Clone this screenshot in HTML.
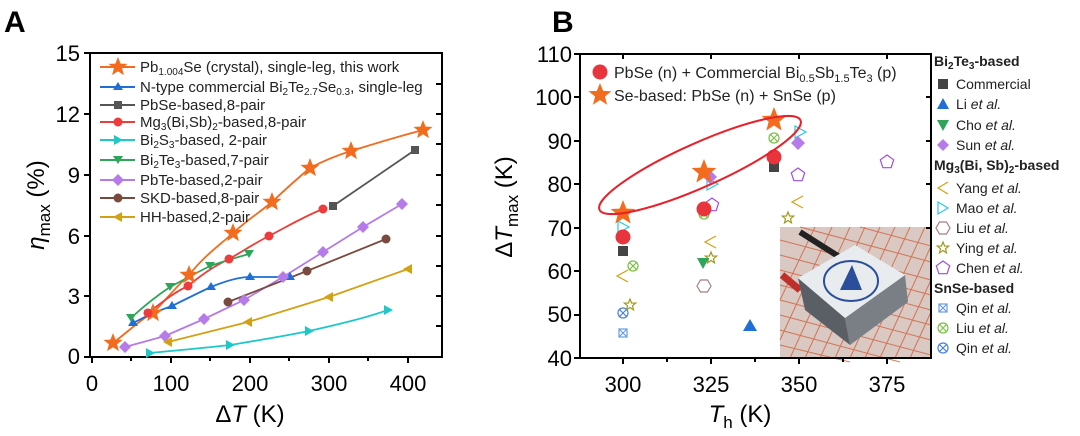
<!DOCTYPE html>
<html><head><meta charset="utf-8"><style>
body{margin:0;background:#fff;}
svg{display:block;font-family:"Liberation Sans",Arial,sans-serif;}
</style></head><body>
<svg width="1080" height="436" viewBox="0 0 1080 436" xmlns="http://www.w3.org/2000/svg">
<defs>
<path id="st" d="M0,-10 L2.6,-3.4 9.5,-3.1 4.1,1.3 5.9,8.1 0,4.2 -5.9,8.1 -4.1,1.3 -9.5,-3.1 -2.6,-3.4Z"/>
<path id="sst" d="M0,-6 L1.6,-2 5.7,-1.9 2.5,0.8 3.5,4.9 0,2.5 -3.5,4.9 -2.5,0.8 -5.7,-1.9 -1.6,-2Z"/>
<path id="pent" d="M0,-7 L6.7,-2.2 4.1,5.7 -4.1,5.7 -6.7,-2.2Z"/>
<path id="hex" d="M-3.5,-6 L3.5,-6 7,0 3.5,6 -3.5,6 -7,0Z"/>
</defs>
<!-- Panel A -->
<text x="4" y="32" font-size="30" font-weight="bold">A</text>
<rect x="90" y="53" width="352" height="304" fill="none" stroke="#000" stroke-width="2"/>
<g stroke="#000" stroke-width="2">
<line x1="92" y1="357" x2="92" y2="363"/><line x1="131" y1="357" x2="131" y2="361"/><line x1="171" y1="357" x2="171" y2="363"/><line x1="210" y1="357" x2="210" y2="361"/><line x1="250" y1="357" x2="250" y2="363"/><line x1="289" y1="357" x2="289" y2="361"/><line x1="329" y1="357" x2="329" y2="363"/><line x1="368" y1="357" x2="368" y2="361"/><line x1="408" y1="357" x2="408" y2="363"/>
<line x1="84" y1="357" x2="90" y2="357"/><line x1="84" y1="296" x2="90" y2="296"/><line x1="84" y1="236" x2="90" y2="236"/><line x1="84" y1="175" x2="90" y2="175"/><line x1="84" y1="114" x2="90" y2="114"/><line x1="84" y1="53" x2="90" y2="53"/>
<line x1="436" y1="326" x2="442" y2="326"/><line x1="436" y1="296" x2="442" y2="296"/><line x1="436" y1="266" x2="442" y2="266"/><line x1="436" y1="236" x2="442" y2="236"/><line x1="436" y1="205" x2="442" y2="205"/><line x1="436" y1="175" x2="442" y2="175"/><line x1="436" y1="144" x2="442" y2="144"/><line x1="436" y1="114" x2="442" y2="114"/><line x1="436" y1="84" x2="442" y2="84"/>
</g>
<g font-size="22" text-anchor="end">
<text x="80" y="364">0</text><text x="80" y="304">3</text><text x="80" y="244">6</text><text x="80" y="183">9</text><text x="80" y="122">12</text><text x="80" y="61">15</text>
</g>
<g font-size="22" text-anchor="middle">
<text x="92" y="391">0</text><text x="171" y="391">100</text><text x="250" y="391">200</text><text x="329" y="391">300</text><text x="408" y="391">400</text>
</g>
<text x="250" y="422" font-size="24" text-anchor="middle">Δ<tspan font-style="italic">T</tspan> (K)</text>
<text transform="translate(44,205) rotate(-90)" font-size="24" text-anchor="middle"><tspan font-style="italic">η</tspan><tspan font-size="17" dy="6">max</tspan><tspan dy="-6"> (%)</tspan></text>
<!-- series A -->
<g fill="none" stroke-width="1.8">
<path stroke="#f36b1c" d="M113,343 C130,330 140,320 153,313 C170,295 178,285 189,275 C205,255 220,245 233,233 C250,218 260,212 272,202 C290,185 298,178 310,168 C325,160 338,155 351,151 C380,142 400,136 423,130"/>
<path stroke="#1f6fd6" d="M133,323 C150,314 160,310 172,306 C190,297 200,292 211,287 C228,280 240,277 250,277 C265,277 280,277 290,277"/>
<path stroke="#555" d="M333,206 L415,150"/>
<path stroke="#ee3b3b" d="M148,313 C165,300 175,292 188,286 C205,272 215,266 229,259 C245,250 255,243 269,236 C290,225 305,216 323,209"/>
<path stroke="#1fc8c8" d="M150,353 C180,350 205,348 230,345 C260,340 285,336 309,331 C340,324 365,318 388,310"/>
<path stroke="#2ea55a" d="M131,318 C145,305 158,295 170,287 C185,279 198,272 210,266 C225,261 238,257 249,254"/>
<path stroke="#b57be8" d="M125,347 L165,336 L204,319 L244,300 L283,277 L323,252 L363,227 L402,204"/>
<path stroke="#7a4a3e" d="M228,302 L307,271 L386,239"/>
<path stroke="#d2a114" d="M168,342 L248,322 L329,297 L408,269"/>
</g>
<g fill="#f36b1c"><use href="#st" x="113" y="343"/><use href="#st" x="153" y="313"/><use href="#st" x="189" y="275"/><use href="#st" x="233" y="233"/><use href="#st" x="272" y="202"/><use href="#st" x="310" y="168"/><use href="#st" x="351" y="151"/><use href="#st" x="423" y="130"/></g>
<g fill="#1f6fd6"><path d="M133,318 l5,8 h-10z"/><path d="M172,301 l5,8 h-10z"/><path d="M211,282 l5,8 h-10z"/><path d="M250,272 l5,8 h-10z"/><path d="M290,272 l5,8 h-10z"/></g>
<g fill="#555"><rect x="329" y="202" width="8" height="8"/><rect x="411" y="146" width="8" height="8"/></g>
<g fill="#ee3b3b"><circle cx="148" cy="313" r="4.5"/><circle cx="188" cy="286" r="4.5"/><circle cx="229" cy="259" r="4.5"/><circle cx="269" cy="236" r="4.5"/><circle cx="323" cy="209" r="4.5"/></g>
<g fill="#1fc8c8"><path d="M146,348 l9,5 l-9,5z"/><path d="M226,340 l9,5 l-9,5z"/><path d="M305,326 l9,5 l-9,5z"/><path d="M384,305 l9,5 l-9,5z"/></g>
<g fill="#2ea55a"><path d="M126,314 h10 l-5,8z"/><path d="M165,283 h10 l-5,8z"/><path d="M205,262 h10 l-5,8z"/><path d="M244,250 h10 l-5,8z"/></g>
<g fill="#b57be8"><path d="M125,341 l6,6 -6,6 -6,-6z"/><path d="M165,330 l6,6 -6,6 -6,-6z"/><path d="M204,313 l6,6 -6,6 -6,-6z"/><path d="M244,294 l6,6 -6,6 -6,-6z"/><path d="M283,271 l6,6 -6,6 -6,-6z"/><path d="M323,246 l6,6 -6,6 -6,-6z"/><path d="M363,221 l6,6 -6,6 -6,-6z"/><path d="M402,198 l6,6 -6,6 -6,-6z"/></g>
<g fill="#7a4a3e"><circle cx="228" cy="302" r="4.5"/><circle cx="307" cy="271" r="4.5"/><circle cx="386" cy="239" r="4.5"/></g>
<g fill="#d2a114"><path d="M163,342 l9,-5 v10z"/><path d="M243,322 l9,-5 v10z"/><path d="M324,297 l9,-5 v10z"/><path d="M403,269 l9,-5 v10z"/></g>
<!-- legend A -->
<g stroke-width="2">
<line x1="100" y1="67" x2="135" y2="67" stroke="#f36b1c"/><line x1="100" y1="87" x2="135" y2="87" stroke="#1f6fd6"/><line x1="100" y1="105" x2="135" y2="105" stroke="#555"/><line x1="100" y1="122" x2="135" y2="122" stroke="#ee3b3b"/><line x1="100" y1="140" x2="135" y2="140" stroke="#1fc8c8"/><line x1="100" y1="160" x2="135" y2="160" stroke="#2ea55a"/><line x1="100" y1="180" x2="135" y2="180" stroke="#b57be8"/><line x1="100" y1="198" x2="135" y2="198" stroke="#7a4a3e"/><line x1="100" y1="217" x2="135" y2="217" stroke="#d2a114"/>
</g>
<use href="#st" x="118" y="67" fill="#f36b1c"/>
<path d="M118,82 l5,8 h-10z" fill="#1f6fd6"/>
<rect x="114" y="101" width="8" height="8" fill="#555"/>
<circle cx="118" cy="122" r="4.5" fill="#ee3b3b"/>
<path d="M114,135 l9,5 l-9,5z" fill="#1fc8c8"/>
<path d="M113,156 h10 l-5,8z" fill="#2ea55a"/>
<path d="M118,174 l6,6 -6,6 -6,-6z" fill="#b57be8"/>
<circle cx="118" cy="198" r="4.5" fill="#7a4a3e"/>
<path d="M113,217 l9,-5 v10z" fill="#d2a114"/>
<g font-size="15" fill="#222">
<text x="140" y="72">Pb<tspan font-size="10" dy="3">1.004</tspan><tspan dy="-3">Se (crystal), single-leg, this work</tspan></text>
<text x="140" y="92">N-type commercial Bi<tspan font-size="10" dy="3">2</tspan><tspan dy="-3">Te</tspan><tspan font-size="10" dy="3">2.7</tspan><tspan dy="-3">Se</tspan><tspan font-size="10" dy="3">0.3</tspan><tspan dy="-3">, single-leg</tspan></text>
<text x="140" y="110">PbSe-based,8-pair</text>
<text x="140" y="127">Mg<tspan font-size="10" dy="3">3</tspan><tspan dy="-3">(Bi,Sb)</tspan><tspan font-size="10" dy="3">2</tspan><tspan dy="-3">-based,8-pair</tspan></text>
<text x="140" y="145">Bi<tspan font-size="10" dy="3">2</tspan><tspan dy="-3">S</tspan><tspan font-size="10" dy="3">3</tspan><tspan dy="-3">-based, 2-pair</tspan></text>
<text x="140" y="165">Bi<tspan font-size="10" dy="3">2</tspan><tspan dy="-3">Te</tspan><tspan font-size="10" dy="3">3</tspan><tspan dy="-3">-based,7-pair</tspan></text>
<text x="140" y="185">PbTe-based,2-pair</text>
<text x="140" y="203">SKD-based,8-pair</text>
<text x="140" y="222">HH-based,2-pair</text>
</g>
<!-- Panel B -->
<text x="552" y="32" font-size="30" font-weight="bold">B</text>
<!-- inset photo -->
<g>
<rect x="780" y="227" width="151" height="131" fill="#d9c9c2"/>
<g stroke="#d0603c" stroke-width="1" opacity="0.8">
<path d="M780,240 L931,280 M780,255 L931,295 M780,270 L931,310 M780,285 L931,325 M780,300 L931,340 M780,315 L931,355 M780,330 L900,362 M780,345 L850,362 M800,227 L931,262 M860,227 L931,246"/>
<path d="M790,358 L850,227 M805,358 L865,227 M820,358 L880,227 M835,358 L895,227 M850,358 L910,227 M865,358 L925,227 M880,358 L931,246 M895,358 L931,280 M910,358 L931,312 M780,340 L832,227 M780,300 L815,227"/>
</g>
<path d="M800,232 L860,270" stroke="#222" stroke-width="6"/>
<path d="M782,275 L800,290" stroke="#c0302a" stroke-width="7"/>
<path d="M798,278 L845,318 L850,345 L805,310Z" fill="#5a5f66"/>
<path d="M845,318 L905,275 L908,302 L850,345Z" fill="#7a7f86"/>
<path d="M798,278 L855,245 L905,275 L845,318Z" fill="#e8ecef"/>
<ellipse cx="851" cy="281" rx="27" ry="20" fill="none" stroke="#2a4e9a" stroke-width="2"/>
<path d="M840,290 L852,265 L862,290Z" fill="#2a4e9a"/>
</g>
<rect x="580" y="54" width="351" height="304" fill="none" stroke="#000" stroke-width="2"/>
<g stroke="#000" stroke-width="2">
<line x1="623" y1="358" x2="623" y2="364"/><line x1="667" y1="358" x2="667" y2="362"/><line x1="711" y1="358" x2="711" y2="364"/><line x1="755" y1="358" x2="755" y2="362"/><line x1="799" y1="358" x2="799" y2="364"/><line x1="843" y1="358" x2="843" y2="362"/><line x1="887" y1="358" x2="887" y2="364"/>
<line x1="623" y1="54" x2="623" y2="59"/><line x1="711" y1="54" x2="711" y2="59"/><line x1="799" y1="54" x2="799" y2="59"/><line x1="887" y1="54" x2="887" y2="59"/>
<line x1="574" y1="358" x2="580" y2="358"/><line x1="574" y1="315" x2="580" y2="315"/><line x1="574" y1="271" x2="580" y2="271"/><line x1="574" y1="228" x2="580" y2="228"/><line x1="574" y1="184" x2="580" y2="184"/><line x1="574" y1="141" x2="580" y2="141"/><line x1="574" y1="97" x2="580" y2="97"/><line x1="574" y1="54" x2="580" y2="54"/>
<line x1="926" y1="97" x2="931" y2="97"/><line x1="926" y1="141" x2="931" y2="141"/><line x1="926" y1="184" x2="931" y2="184"/><line x1="926" y1="228" x2="931" y2="228"/>
</g>
<g font-size="22" text-anchor="end">
<text x="572" y="366">40</text><text x="572" y="322">50</text><text x="572" y="279">60</text><text x="572" y="236">70</text><text x="572" y="192">80</text><text x="572" y="149">90</text><text x="572" y="105">100</text><text x="572" y="62">110</text>
</g>
<g font-size="22" text-anchor="middle">
<text x="623" y="392">300</text><text x="711" y="392">325</text><text x="799" y="392">350</text><text x="887" y="392">375</text>
</g>
<text x="740" y="422" font-size="24" text-anchor="middle"><tspan font-style="italic">T</tspan><tspan font-size="17" dy="6">h</tspan><tspan dy="-6"> (K)</tspan></text>
<text transform="translate(512,207) rotate(-90)" font-size="24" text-anchor="middle">Δ<tspan font-style="italic">T</tspan><tspan font-size="17" dy="6">max</tspan><tspan dy="-6"> (K)</tspan></text>
<!-- B data -->
<g fill="none" stroke-width="1.2">
<rect x="619" y="329" width="8" height="8" stroke="#6a9be0"/><path d="M619,329 l8,8 M627,329 l-8,8" stroke="#6a9be0"/>
<circle cx="623" cy="313" r="5" stroke="#4a7fe0"/><path d="M619,309 l8,8 M627,309 l-8,8" stroke="#4a7fe0"/>
<circle cx="633" cy="266" r="5" stroke="#7bc043"/><path d="M629,262 l8,8 M637,262 l-8,8" stroke="#7bc043"/>
<circle cx="704" cy="214" r="5" stroke="#7bc043"/><path d="M700,210 l8,8 M708,210 l-8,8" stroke="#7bc043"/>
<circle cx="774" cy="138" r="5" stroke="#7bc043"/><path d="M770,134 l8,8 M778,134 l-8,8" stroke="#7bc043"/>
<path d="M628,270 l-11,6 l11,6" stroke="#d2a114"/><path d="M716,236 l-11,6 l11,6" stroke="#d2a114"/><path d="M803,196 l-11,6 l11,6" stroke="#d2a114"/>
<use href="#hex" x="704" y="286" stroke="#a08080"/>
<use href="#sst" x="630" y="305" stroke="#a09a20"/><use href="#sst" x="711" y="258" stroke="#a09a20"/><use href="#sst" x="788" y="218" stroke="#a09a20"/>
<use href="#pent" x="712" y="205" stroke="#9b4de8"/><use href="#pent" x="798" y="175" stroke="#9b4de8"/><use href="#pent" x="887" y="162" stroke="#9b4de8"/>
<path d="M618,221 l11,6 l-11,6z" stroke="#2ac8e0"/><path d="M707,178 l11,6 l-11,6z" stroke="#2ac8e0"/><path d="M795,126 l11,6 l-11,6z" stroke="#2ac8e0"/>
</g>
<path d="M750,319 l7,12 h-14z" fill="#1f6fd6"/>
<path d="M697,258 h12 l-6,11z" fill="#2ea55a"/>
<path d="M798,136 l7,7 -7,7 -7,-7z" fill="#b57be8"/><path d="M710,170 l7,7 -7,7 -7,-7z" fill="#b57be8"/>
<rect x="618" y="246" width="10" height="10" fill="#444"/><rect x="769" y="162" width="10" height="10" fill="#444"/>
<circle cx="623" cy="237" r="7.5" fill="#e8343c"/><circle cx="704" cy="209" r="7.5" fill="#e8343c"/><circle cx="774" cy="157" r="7.5" fill="#e8343c"/>
<g fill="#f36b1c">
<path transform="translate(623,213) scale(1.3)" d="M0,-10 L2.6,-3.4 9.5,-3.1 4.1,1.3 5.9,8.1 0,4.2 -5.9,8.1 -4.1,1.3 -9.5,-3.1 -2.6,-3.4Z"/>
<path transform="translate(704,172) scale(1.3)" d="M0,-10 L2.6,-3.4 9.5,-3.1 4.1,1.3 5.9,8.1 0,4.2 -5.9,8.1 -4.1,1.3 -9.5,-3.1 -2.6,-3.4Z"/>
<path transform="translate(774,120) scale(1.3)" d="M0,-10 L2.6,-3.4 9.5,-3.1 4.1,1.3 5.9,8.1 0,4.2 -5.9,8.1 -4.1,1.3 -9.5,-3.1 -2.6,-3.4Z"/>
</g>
<ellipse cx="700" cy="165" rx="110" ry="22" transform="rotate(-24 700 165)" fill="none" stroke="#e8202a" stroke-width="2"/>
<!-- B legend inside -->
<circle cx="600" cy="72" r="7.5" fill="#e8343c"/>
<path transform="translate(600,95) scale(1.2)" fill="#f36b1c" d="M0,-10 L2.6,-3.4 9.5,-3.1 4.1,1.3 5.9,8.1 0,4.2 -5.9,8.1 -4.1,1.3 -9.5,-3.1 -2.6,-3.4Z"/>
<g font-size="16" fill="#222">
<text x="614" y="78">PbSe (n) + Commercial Bi<tspan font-size="11" dy="4">0.5</tspan><tspan dy="-4">Sb</tspan><tspan font-size="11" dy="4">1.5</tspan><tspan dy="-4">Te</tspan><tspan font-size="11" dy="4">3</tspan><tspan dy="-4"> (p)</tspan></text>
<text x="614" y="101">Se-based: PbSe (n) + SnSe (p)</text>
</g>
<!-- right legend -->
<g font-size="14" fill="#222">
<text x="934" y="66" font-weight="bold">Bi<tspan font-size="10" dy="3">2</tspan><tspan dy="-3">Te</tspan><tspan font-size="10" dy="3">3</tspan><tspan dy="-3">-based</tspan></text>
<text x="956" y="89">Commercial</text>
<text x="956" y="109">Li <tspan font-style="italic">et al.</tspan></text>
<text x="956" y="130">Cho <tspan font-style="italic">et al.</tspan></text>
<text x="956" y="150">Sun <tspan font-style="italic">et al.</tspan></text>
<text x="934" y="170" font-weight="bold">Mg<tspan font-size="10" dy="3">3</tspan><tspan dy="-3">(Bi, Sb)</tspan><tspan font-size="10" dy="3">2</tspan><tspan dy="-3">-based</tspan></text>
<text x="956" y="193">Yang <tspan font-style="italic">et al.</tspan></text>
<text x="956" y="213">Mao  <tspan font-style="italic">et al.</tspan></text>
<text x="956" y="233">Liu  <tspan font-style="italic">et al.</tspan></text>
<text x="956" y="253">Ying  <tspan font-style="italic">et al.</tspan></text>
<text x="956" y="273">Chen  <tspan font-style="italic">et al.</tspan></text>
<text x="934" y="293" font-weight="bold">SnSe-based</text>
<text x="956" y="313">Qin <tspan font-style="italic">et al.</tspan></text>
<text x="956" y="333">Liu <tspan font-style="italic">et al.</tspan></text>
<text x="956" y="353">Qin <tspan font-style="italic">et al.</tspan></text>
</g>
<rect x="938" y="79" width="10" height="10" fill="#444"/>
<path d="M943,98 l6,11 h-12z" fill="#1f6fd6"/>
<path d="M937,120 h12 l-6,11z" fill="#2ea55a"/>
<path d="M943,139 l6,6 -6,6 -6,-6z" fill="#b57be8"/>
<g fill="none" stroke-width="1.2">
<path d="M948,182 l-10,6 l10,6" stroke="#d2a114"/>
<path d="M938,202 l10,6 l-10,6z" stroke="#2ac8e0"/>
<use href="#hex" x="943" y="228" stroke="#a08080"/>
<use href="#sst" x="943" y="248" stroke="#a09a20"/>
<use href="#pent" x="943" y="268" stroke="#9b4de8"/>
<rect x="939" y="304" width="8" height="8" stroke="#6a9be0"/><path d="M939,304 l8,8 M947,304 l-8,8" stroke="#6a9be0"/>
<circle cx="943" cy="328" r="5" stroke="#7bc043"/><path d="M939,324 l8,8 M947,324 l-8,8" stroke="#7bc043"/>
<circle cx="943" cy="348" r="5" stroke="#4a7fe0"/><path d="M939,344 l8,8 M947,344 l-8,8" stroke="#4a7fe0"/>
</g>
</svg>
</body></html>
